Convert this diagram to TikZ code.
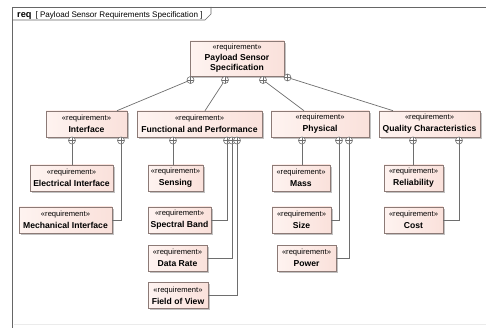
\documentclass[tikz,border=0pt]{standalone}
\usepackage{fontspec}
\setmainfont{Liberation Sans}
\usetikzlibrary{shadows,calc}

\definecolor{reqfill}{HTML}{FAE1DB}
\definecolor{reqfillL}{HTML}{FEF3F0}
\definecolor{reqborder}{HTML}{8C7A76}
\definecolor{wire}{HTML}{6E6E6E}
\definecolor{framecol}{HTML}{666666}

% stereotype line and bold name line of a requirement box
\newcommand\stereo{{\fontsize{7.6}{12}\selectfont «requirement»}}
\newcommand\reqname[1]{{\fontsize{8.6}{12}\selectfont\bfseries #1}}

\begin{document}
\begin{tikzpicture}[x=1pt,y=-1pt,
  reqbox/.style={draw=reqborder, line width=0.6pt,
    left color=reqfillL, right color=reqfill,
    align=center, inner sep=0pt, minimum height=26pt,
    font=\fontsize{7.6}{12}\selectfont,
    drop shadow={shadow xshift=1.6pt, shadow yshift=-1.6pt, fill=black!40, opacity=0.6}},
  wireline/.style={draw=wire, line width=0.7pt},
  cplus/.style={circle, draw=wire, fill=white, line width=0.6pt,
    minimum size=7pt, inner sep=0pt,
    path picture={\begin{scope}[shift={(path picture bounding box.center)}, rotate=#1]
      \draw[wire, line width=0.5pt] (-4,0) -- (4,0) (0,-4) -- (0,4);
    \end{scope}}},
  cplus/.default=0
]
\useasboundingbox (0,0) rectangle (486,328);

% diagram frame and its name tab
\draw[black!8, line width=0.6pt] (14,324.5) -- (486,324.5);
\draw[framecol, line width=0.9pt] (12,328) -- (12,7) -- (486,7);
\draw[framecol, line width=0.6pt] (12,20) -- (205,20) -- (211,14) -- (211,7);
\node[anchor=base west, inner sep=0pt] (hdr) at (17,17.2)
  {{\fontsize{9.2}{10}\selectfont\bfseries req}\hspace{4pt}{\fontsize{8.1}{10}\selectfont [ Payload Sensor Requirements Specification ]}};

% top-level requirement
\node[reqbox, minimum width=94pt, minimum height=35pt, font=\fontsize{7.6}{10}\selectfont] (root) at (237,58.5)
  {\stereo\\[1pt]{\fontsize{8.6}{10}\selectfont\bfseries Payload Sensor}\\{\fontsize{8.6}{10}\selectfont\bfseries Specification}};

% second level
\node[reqbox, minimum width=81pt]  (iface) at (86.5,124)  {\stereo\\\reqname{Interface}};
\node[reqbox, minimum width=125pt] (func)  at (199.5,124) {\stereo\\\reqname{Functional and Performance}};
\node[reqbox, minimum width=98pt]  (phys)  at (320,124)   {\stereo\\\reqname{Physical}};
\node[reqbox, minimum width=101pt] (qual)  at (429.5,124) {\stereo\\\reqname{Quality Characteristics}};

% third level
\node[reqbox, minimum width=83pt] (elec)  at (71.5,178)  {\stereo\\\reqname{Electrical Interface}};
\node[reqbox, minimum width=93pt] (mech)  at (65.5,220)  {\stereo\\\reqname{Mechanical Interface}};
\node[reqbox, minimum width=55pt] (sens)  at (175.5,178) {\stereo\\\reqname{Sensing}};
\node[reqbox, minimum width=63pt] (spec)  at (179.5,220) {\stereo\\\reqname{Spectral Band}};
\node[reqbox, minimum width=59pt] (rate)  at (177.5,258) {\stereo\\\reqname{Data Rate}};
\node[reqbox, minimum width=60pt] (fov)   at (178,295.5) {\stereo\\\reqname{Field of View}};
\node[reqbox, minimum width=58pt] (mass)  at (301,178)   {\stereo\\\reqname{Mass}};
\node[reqbox, minimum width=59pt] (size)  at (301.5,220) {\stereo\\\reqname{Size}};
\node[reqbox, minimum width=59pt] (power) at (306.5,258) {\stereo\\\reqname{Power}};
\node[reqbox, minimum width=59pt] (rel)   at (413.5,178) {\stereo\\\reqname{Reliability}};
\node[reqbox, minimum width=59pt] (cost)  at (413.5,220) {\stereo\\\reqname{Cost}};

% containment ends on the top-level requirement (cross turned along the line)
\node[cplus=23]  (r1) at (190.5,80) {};
\node[cplus=57]  (r2) at (225,80)   {};
\node[cplus=-36] (r3) at (263,80)   {};
\node[cplus=-18] (r4) at (287.5,77.5) {};

% containment ends on the second level
\node[cplus] (i1) at (72,140.5)  {};
\node[cplus] (i2) at (121,140.5) {};
\node[cplus] (f1) at (173,140.5) {};
\node[cplus] (f2) at (227,140.5) {};
\node[cplus] (f3) at (232,140.5) {};
\node[cplus] (f4) at (237,140.5) {};
\node[cplus] (p1) at (302,140.5) {};
\node[cplus] (p2) at (339,140.5) {};
\node[cplus] (p3) at (349,140.5) {};
\node[cplus] (q1) at (413,140.5) {};
\node[cplus] (q2) at (459,140.5) {};

% containment connectors
\draw[wireline] (r1) -- ([xshift=30.5pt]iface.north);
\draw[wireline] (r2) -- ([xshift=5.5pt]func.north);
\draw[wireline] (r3) -- ([xshift=-16pt]phys.north);
\draw[wireline] (r4) -- ([xshift=-36.5pt]qual.north);

\draw[wireline] (i1) -- (i1 |- elec.north);
\draw[wireline] (i2) |- (mech.east);
\draw[wireline] (f1) -- (f1 |- sens.north);
\draw[wireline] (f2) |- (spec.east);
\draw[wireline] (f3) |- (rate.east);
\draw[wireline] (f4) |- (fov.east);
\draw[wireline] (p1) -- (p1 |- mass.north);
\draw[wireline] (p2) |- (size.east);
\draw[wireline] (p3) |- (power.east);
\draw[wireline] (q1) -- (q1 |- rel.north);
\draw[wireline] (q2) |- (cost.east);
\end{tikzpicture}
\end{document}
